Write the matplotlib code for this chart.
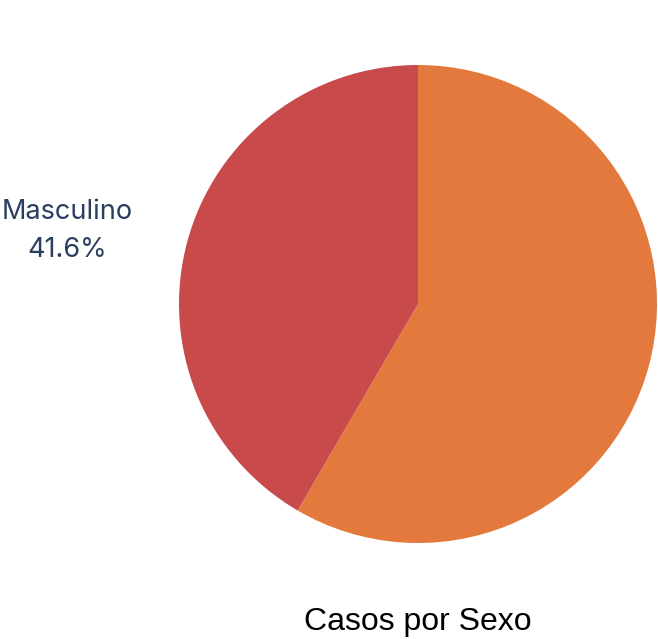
import matplotlib
matplotlib.use("Agg")
import matplotlib.pyplot as plt

# data
categorias = ["Femenino", "Masculino"]
porcentajes = [58.4, 41.6]
colores = ["#E4793D", "#C94A4A"]

W, H = 658, 639
fig = plt.figure(figsize=(W / 100, H / 100), dpi=100)

# pie centre (418, 304) px, radius 239 px
cx, cy, r = 418, 304, 239
ax = fig.add_axes([(cx - r) / W, 1 - (cy + r) / H, 2 * r / W, 2 * r / H])
ax.pie(porcentajes, colors=colores, startangle=90, counterclock=False,
       radius=1, wedgeprops=dict(linewidth=0))
ax.set_xlim(-1, 1)
ax.set_ylim(-1, 1)
ax.axis("off")

# only the Masculino label is visible (the other one is cut off)
fig.text(67 / W, 1 - 231 / H, "%s\n%.1f%%" % (categorias[1], porcentajes[1]),
         ha="center", va="center", fontsize=19.5, color="#2a3f5f",
         family="Inter", linespacing=1.62)

fig.text(418 / W, 1 - 622 / H, "Casos por Sexo", ha="center", va="center",
         fontsize=23, color="black", family="Liberation Sans")

fig.savefig("out.png", dpi=100)
